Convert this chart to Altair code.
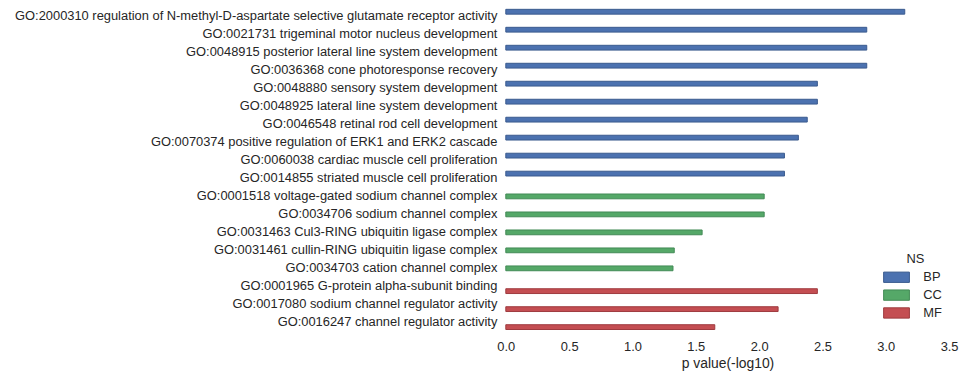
import altair as alt
import pandas as pd

terms = [
    "GO:2000310 regulation of N-methyl-D-aspartate selective glutamate receptor activity",
    "GO:0021731 trigeminal motor nucleus development",
    "GO:0048915 posterior lateral line system development",
    "GO:0036368 cone photoresponse recovery",
    "GO:0048880 sensory system development",
    "GO:0048925 lateral line system development",
    "GO:0046548 retinal rod cell development",
    "GO:0070374 positive regulation of ERK1 and ERK2 cascade",
    "GO:0060038 cardiac muscle cell proliferation",
    "GO:0014855 striated muscle cell proliferation",
    "GO:0001518 voltage-gated sodium channel complex",
    "GO:0034706 sodium channel complex",
    "GO:0031463 Cul3-RING ubiquitin ligase complex",
    "GO:0031461 cullin-RING ubiquitin ligase complex",
    "GO:0034703 cation channel complex",
    "GO:0001965 G-protein alpha-subunit binding",
    "GO:0017080 sodium channel regulator activity",
    "GO:0016247 channel regulator activity",
]
namespaces = ["BP"] * 10 + ["CC"] * 5 + ["MF"] * 3
pvals = [3.15, 2.85, 2.85, 2.85, 2.46, 2.46, 2.38, 2.31, 2.20, 2.20,
         2.04, 2.04, 1.55, 1.33, 1.32, 2.46, 2.15, 1.65]

ns_levels = ["BP", "CC", "MF"]
fill_colors = ["#4C72B0", "#55A868", "#C44E52"]
edge_colors = ["#3a5a8e", "#428a55", "#9e3a3e"]

df = pd.DataFrame({"term": terms, "NS": namespaces, "p": pvals})

font = "Liberation Sans"
txt = "#262626"

chart = alt.Chart(df).mark_bar(strokeWidth=1).encode(
    y=alt.Y("term:N", sort=terms, title=None,
            scale=alt.Scale(paddingInner=0, paddingOuter=0, range=[-2, 324.5]),
            axis=alt.Axis(domain=False, ticks=False, grid=False, labelPadding=9,
                          labelFontSize=13, labelColor=txt, labelFont=font,
                          labelLimit=0)),
    yOffset=alt.YOffset("NS:N", scale=alt.Scale(domain=ns_levels, paddingInner=0,
                                                paddingOuter=0.375)),
    x=alt.X("p:Q", title="p value(-log10)",
            scale=alt.Scale(domain=[0, 3.5], nice=False),
            axis=alt.Axis(values=[0, 0.5, 1, 1.5, 2, 2.5, 3, 3.5], format=".1f",
                          domain=False, ticks=False, grid=False, labelPadding=10,
                          labelFlush=False,
                          labelFontSize=13, labelColor=txt, labelFont=font,
                          titleFontSize=14, titleColor=txt, titleFont=font,
                          titleFontWeight="normal", titlePadding=3)),
    color=alt.Color("NS:N", scale=alt.Scale(domain=ns_levels, range=fill_colors),
                    legend=alt.Legend(title="NS", orient="none", legendX=387, legendY=246,
                                      symbolType="M-2,-0.8H2V0.8H-2Z", symbolSize=169,
                                      symbolStrokeWidth=1, labelFontSize=13,
                                      labelColor=txt, labelFont=font, titleFontSize=13,
                                      titleColor=txt, titleFont=font,
                                      titleFontWeight="normal", titleAnchor="middle",
                                      titlePadding=4,
                                      labelOffset=20, rowPadding=2)),
    stroke=alt.Stroke("NS:N", scale=alt.Scale(domain=ns_levels, range=edge_colors),
                      legend=None),
).properties(
    width=447, height=324,
    padding={"left": 502, "top": 0, "right": 10, "bottom": 39},
    autosize=alt.AutoSizeParams(type="none"),
).configure_view(stroke=None)

chart.save("out.html", embed_options={"renderer": "svg", "actions": False})
